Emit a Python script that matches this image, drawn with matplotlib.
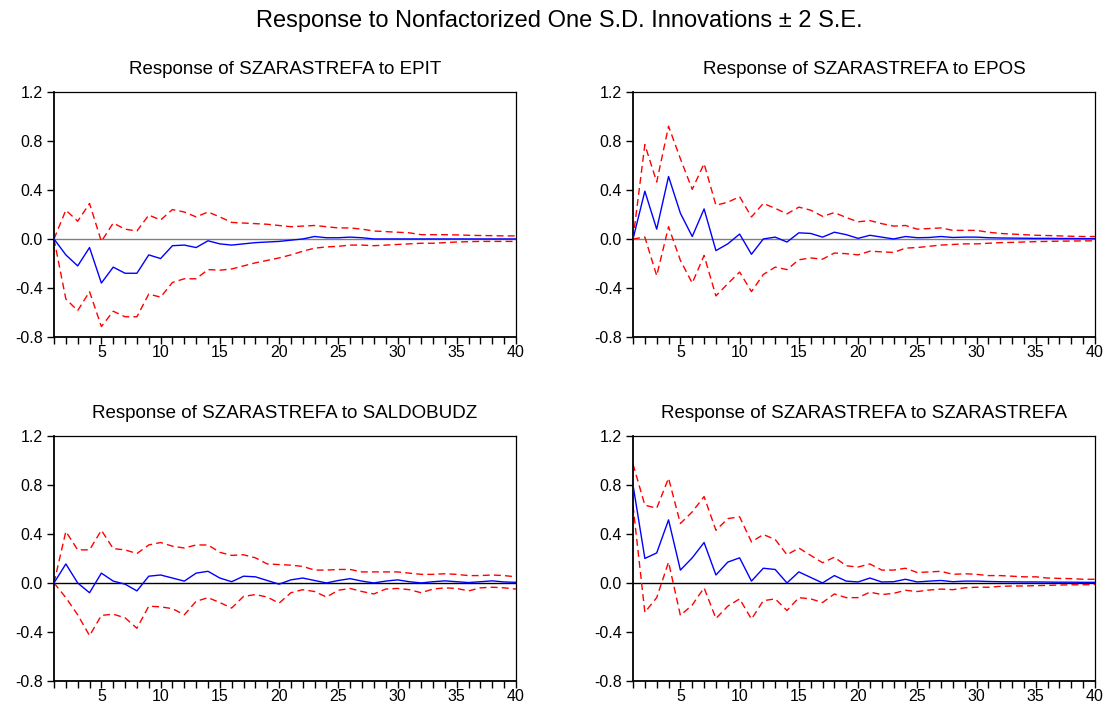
import matplotlib
matplotlib.use("Agg")
import matplotlib.pyplot as plt
from matplotlib.ticker import MultipleLocator
import numpy as np

plt.rcParams['font.family'] = ['Liberation Sans', 'DejaVu Sans']

periods = np.arange(1, 41)

# Response of SZARASTREFA to EPIT
epit_resp = [0.0, -0.13, -0.22, -0.07, -0.36, -0.23, -0.28, -0.28, -0.13, -0.16,
             -0.055, -0.05, -0.07, -0.015, -0.04, -0.05, -0.04, -0.03, -0.025, -0.02,
             -0.01, 0.0, 0.02, 0.01, 0.01, 0.015, 0.01, 0.0, 0.0, 0.0,
             0.0, 0.0, 0.0, 0.0, 0.0, 0.0, 0.0, 0.0, 0.0, 0.0]
epit_up = [0.0, 0.235, 0.145, 0.29, -0.02, 0.13, 0.08, 0.065, 0.195, 0.155,
           0.24, 0.22, 0.18, 0.22, 0.18, 0.135, 0.13, 0.125, 0.12, 0.11,
           0.10, 0.105, 0.11, 0.10, 0.09, 0.09, 0.08, 0.065, 0.06, 0.055,
           0.05, 0.035, 0.035, 0.035, 0.033, 0.03, 0.028, 0.027, 0.025, 0.025]
epit_lo = [0.0, -0.49, -0.585, -0.43, -0.715, -0.59, -0.635, -0.635, -0.45, -0.475,
           -0.355, -0.325, -0.325, -0.25, -0.255, -0.245, -0.22, -0.195, -0.175, -0.155,
           -0.13, -0.10, -0.075, -0.065, -0.06, -0.05, -0.05, -0.055, -0.05, -0.045,
           -0.04, -0.035, -0.035, -0.03, -0.025, -0.022, -0.02, -0.02, -0.02, -0.02]

# Response of SZARASTREFA to EPOS
epos_resp = [0.0, 0.39, 0.08, 0.51, 0.21, 0.02, 0.245, -0.095, -0.04, 0.04,
             -0.125, 0.0, 0.015, -0.025, 0.05, 0.045, 0.015, 0.055, 0.035, 0.005,
             0.03, 0.015, 0.0, 0.02, 0.01, 0.012, 0.02, 0.012, 0.015, 0.015,
             0.01, 0.008, 0.007, 0.006, 0.005, 0.005, 0.004, 0.004, 0.003, 0.003]
epos_up = [0.0, 0.77, 0.465, 0.92, 0.655, 0.405, 0.615, 0.275, 0.30, 0.345,
           0.18, 0.29, 0.25, 0.205, 0.26, 0.235, 0.185, 0.215, 0.175, 0.14,
           0.15, 0.125, 0.105, 0.11, 0.08, 0.085, 0.09, 0.07, 0.07, 0.07,
           0.055, 0.045, 0.04, 0.035, 0.03, 0.028, 0.025, 0.022, 0.02, 0.02]
epos_lo = [0.0, 0.015, -0.30, 0.10, -0.175, -0.36, -0.135, -0.465, -0.365, -0.27,
           -0.43, -0.29, -0.23, -0.25, -0.17, -0.155, -0.165, -0.115, -0.12, -0.13,
           -0.10, -0.105, -0.11, -0.075, -0.07, -0.06, -0.05, -0.045, -0.04, -0.04,
           -0.035, -0.03, -0.028, -0.025, -0.022, -0.02, -0.018, -0.017, -0.016, -0.015]

# Response of SZARASTREFA to SALDOBUDZ
saldo_resp = [0.0, 0.155, 0.0, -0.08, 0.08, 0.015, -0.01, -0.065, 0.055, 0.065,
              0.04, 0.015, 0.08, 0.095, 0.04, 0.01, 0.055, 0.05, 0.02, -0.01,
              0.025, 0.04, 0.02, 0.0, 0.02, 0.035, 0.015, 0.0, 0.015, 0.025,
              0.01, 0.0, 0.01, 0.017, 0.01, 0.003, 0.01, 0.017, 0.008, 0.005]
saldo_up = [0.0, 0.42, 0.27, 0.27, 0.43, 0.28, 0.27, 0.24, 0.31, 0.33,
            0.30, 0.285, 0.31, 0.31, 0.25, 0.225, 0.23, 0.205, 0.155, 0.15,
            0.145, 0.135, 0.105, 0.105, 0.11, 0.11, 0.09, 0.09, 0.09, 0.09,
            0.08, 0.07, 0.07, 0.075, 0.07, 0.06, 0.06, 0.065, 0.06, 0.05]
saldo_lo = [0.0, -0.12, -0.26, -0.43, -0.265, -0.255, -0.285, -0.37, -0.19, -0.195,
            -0.21, -0.26, -0.15, -0.12, -0.16, -0.205, -0.11, -0.095, -0.115, -0.165,
            -0.08, -0.055, -0.07, -0.115, -0.06, -0.045, -0.07, -0.09, -0.05, -0.045,
            -0.055, -0.08, -0.05, -0.04, -0.045, -0.065, -0.04, -0.035, -0.04, -0.05]

# Response of SZARASTREFA to SZARASTREFA
szara_resp = [0.80, 0.20, 0.245, 0.515, 0.105, 0.205, 0.33, 0.065, 0.17, 0.205,
              0.015, 0.12, 0.11, 0.0, 0.09, 0.045, 0.0, 0.06, 0.015, 0.008,
              0.04, 0.008, 0.01, 0.03, 0.008, 0.015, 0.02, 0.01, 0.015, 0.015,
              0.012, 0.01, 0.009, 0.008, 0.008, 0.007, 0.006, 0.006, 0.005, 0.005]
szara_up = [0.97, 0.635, 0.61, 0.855, 0.485, 0.58, 0.705, 0.43, 0.525, 0.54,
            0.335, 0.395, 0.355, 0.23, 0.285, 0.225, 0.165, 0.21, 0.14, 0.13,
            0.155, 0.105, 0.105, 0.12, 0.085, 0.09, 0.095, 0.07, 0.075, 0.07,
            0.06, 0.06, 0.055, 0.05, 0.05, 0.04, 0.037, 0.035, 0.03, 0.03]
szara_lo = [0.63, -0.24, -0.12, 0.17, -0.265, -0.18, -0.04, -0.29, -0.19, -0.13,
            -0.295, -0.145, -0.13, -0.225, -0.12, -0.13, -0.16, -0.09, -0.12, -0.12,
            -0.075, -0.095, -0.085, -0.06, -0.07, -0.058, -0.05, -0.055, -0.04, -0.035,
            -0.035, -0.028, -0.025, -0.025, -0.022, -0.02, -0.017, -0.015, -0.015, -0.012]

panels = [
    ("Response of SZARASTREFA to EPIT", epit_resp, epit_up, epit_lo, "#808080"),
    ("Response of SZARASTREFA to EPOS", epos_resp, epos_up, epos_lo, "#808080"),
    ("Response of SZARASTREFA to SALDOBUDZ", saldo_resp, saldo_up, saldo_lo, "black"),
    ("Response of SZARASTREFA to SZARASTREFA", szara_resp, szara_up, szara_lo, "black"),
]

fig = plt.figure(figsize=(11.18, 7.02), dpi=100)
fig.text(0.5, 0.970, "Response to Nonfactorized One S.D. Innovations \u00b1 2 S.E.",
         ha='center', va='center', fontsize=17)

# axes rectangles in figure fractions (left, bottom, width, height)
rects = [
    (0.0483, 0.520, 0.4132, 0.349),
    (0.5662, 0.520, 0.4132, 0.349),
    (0.0483, 0.030, 0.4132, 0.349),
    (0.5662, 0.030, 0.4132, 0.349),
]

for rect, (title, resp, up, lo, zcol) in zip(rects, panels):
    ax = fig.add_axes(rect)
    ax.axhline(0, color=zcol, linewidth=1.0, zorder=1)
    ax.plot(periods, up, color='red', linestyle=(0, (5, 3)), linewidth=1.0, zorder=2)
    ax.plot(periods, lo, color='red', linestyle=(0, (5, 3)), linewidth=1.0, zorder=2)
    ax.plot(periods, resp, color='blue', linewidth=1.0, zorder=3)
    ax.set_xlim(1, 40)
    ax.set_ylim(-0.8, 1.2)
    ax.set_yticks([-0.8, -0.4, 0.0, 0.4, 0.8, 1.2])
    ax.set_yticklabels(["-0.8", "-0.4", "0.0", "0.4", "0.8", "1.2"])
    ax.set_xticks([5, 10, 15, 20, 25, 30, 35, 40])
    ax.xaxis.set_minor_locator(MultipleLocator(1))
    ax.tick_params(axis='both', which='both', direction='out', length=5,
                   width=1.0, labelsize=11.5)
    ax.tick_params(axis='x', which='both', pad=0.5)
    ax.tick_params(axis='y', which='both', pad=3)
    for side in ['left', 'bottom']:
        ax.spines[side].set_linewidth(1.3)
    for side in ['top', 'right']:
        ax.spines[side].set_linewidth(0.9)
    ax.set_title(title, fontsize=13.5, pad=13)

fig.savefig("out.png", dpi=100)
